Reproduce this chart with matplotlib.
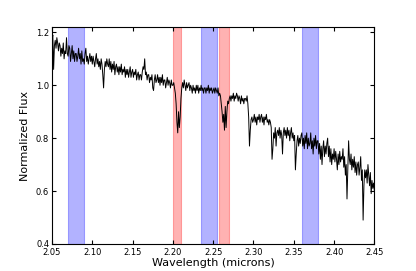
import numpy as np
import matplotlib
matplotlib.use('Agg')
import matplotlib.pyplot as plt

# normalized flux, sampled every 0.001 micron from 2.05 to 2.45
flux = [
    1.17, 1.19, 1.06, 1.15, 1.17, 1.14, 1.18, 1.16, 1.13, 1.16,   # 2.05
    1.15, 1.11, 1.14, 1.12, 1.16, 1.10, 1.13, 1.12, 1.18, 1.12,   # 2.06
    1.11, 1.15, 1.14, 1.09, 1.12, 1.15, 1.10, 1.13, 1.09, 1.12,   # 2.07
    1.12, 1.09, 1.11, 1.14, 1.10, 1.12, 1.08, 1.13, 1.09, 1.10,   # 2.08
    1.08, 1.12, 1.14, 1.09, 1.11, 1.08, 1.10, 1.12, 1.09, 1.11,   # 2.09
    1.08, 1.11, 1.09, 1.07, 1.10, 1.12, 1.08, 1.10, 1.07, 1.09,   # 2.10
    1.06, 1.10, 1.08, 1.04, 0.99, 1.06, 1.09, 1.07, 1.10, 1.08,   # 2.11
    1.07, 1.10, 1.06, 1.09, 1.05, 1.08, 1.06, 1.09, 1.04, 1.07,   # 2.12
    1.08, 1.05, 1.07, 1.04, 1.07, 1.05, 1.08, 1.04, 1.06, 1.05,   # 2.13
    1.07, 1.03, 1.06, 1.04, 1.06, 1.03, 1.05, 1.07, 1.03, 1.05,   # 2.14
    1.06, 1.03, 1.05, 1.04, 1.06, 1.02, 1.04, 1.05, 1.02, 1.04,   # 2.15
    1.04, 1.02, 1.05, 1.07, 1.06, 1.10, 1.04, 1.05, 1.02, 1.04,   # 2.16
    1.04, 1.01, 1.03, 1.02, 1.04, 0.99, 0.98, 1.02, 1.04, 1.01,   # 2.17
    1.02, 1.04, 1.01, 1.03, 1.00, 1.03, 1.01, 1.04, 1.00, 1.02,   # 2.18
    1.02, 0.99, 1.01, 1.03, 1.00, 1.02, 1.01, 0.99, 1.02, 1.00,   # 2.19
    1.00, 1.01, 0.99, 0.97, 0.93, 0.86, 0.82, 0.90, 0.84, 0.88,   # 2.20
    0.95, 0.99, 1.01, 0.99, 1.02, 1.00, 0.98, 1.01, 0.99, 1.00,   # 2.21
    1.01, 0.98, 1.00, 0.99, 0.97, 1.00, 0.98, 0.99, 0.97, 1.00,   # 2.22
    0.98, 1.00, 0.97, 0.99, 0.98, 1.00, 0.98, 0.99, 0.97, 0.99,   # 2.23
    0.99, 0.97, 0.99, 0.98, 1.00, 0.97, 0.99, 0.98, 0.99, 0.97,   # 2.24
    0.98, 0.99, 0.97, 0.99, 0.98, 0.97, 0.99, 0.96, 0.97, 0.96,   # 2.25
    0.93, 0.90, 0.86, 0.89, 0.83, 0.92, 0.84, 0.90, 0.94, 0.93,   # 2.26
    0.95, 0.96, 0.94, 0.96, 0.95, 0.97, 0.94, 0.96, 0.95, 0.97,   # 2.27
    0.96, 0.94, 0.96, 0.95, 0.93, 0.96, 0.94, 0.95, 0.93, 0.95,   # 2.28
    0.95, 0.94, 0.96, 0.93, 0.88, 0.77, 0.83, 0.87, 0.88, 0.86,   # 2.29
    0.87, 0.89, 0.86, 0.88, 0.85, 0.88, 0.87, 0.89, 0.86, 0.88,   # 2.30
    0.89, 0.86, 0.88, 0.85, 0.88, 0.87, 0.89, 0.86, 0.87, 0.85,   # 2.31
    0.87, 0.86, 0.84, 0.72, 0.76, 0.82, 0.80, 0.84, 0.77, 0.82,   # 2.32
    0.83, 0.81, 0.84, 0.80, 0.83, 0.81, 0.74, 0.82, 0.84, 0.81,   # 2.33
    0.83, 0.80, 0.84, 0.81, 0.83, 0.79, 0.82, 0.84, 0.80, 0.82,   # 2.34
    0.79, 0.81, 0.68, 0.74, 0.79, 0.81, 0.77, 0.80, 0.78, 0.81,   # 2.35
    0.82, 0.77, 0.80, 0.76, 0.81, 0.78, 0.82, 0.76, 0.80, 0.77,   # 2.36
    0.78, 0.82, 0.76, 0.79, 0.74, 0.80, 0.77, 0.81, 0.76, 0.79,   # 2.37
    0.79, 0.74, 0.78, 0.72, 0.77, 0.70, 0.76, 0.79, 0.73, 0.77,   # 2.38
    0.74, 0.78, 0.80, 0.73, 0.77, 0.71, 0.76, 0.70, 0.74, 0.72,   # 2.39
    0.76, 0.71, 0.75, 0.72, 0.68, 0.74, 0.70, 0.75, 0.71, 0.73,   # 2.40
    0.72, 0.76, 0.69, 0.73, 0.66, 0.70, 0.57, 0.68, 0.79, 0.72,   # 2.41
    0.70, 0.74, 0.68, 0.72, 0.69, 0.73, 0.67, 0.71, 0.66, 0.70,   # 2.42
    0.71, 0.66, 0.69, 0.73, 0.64, 0.68, 0.49, 0.62, 0.68, 0.65,   # 2.43
    0.68, 0.63, 0.70, 0.66, 0.62, 0.67, 0.59, 0.64, 0.61, 0.63,   # 2.44
    0.60,                                                         # 2.45
]
wave = np.linspace(2.05, 2.45, len(flux))

# shaded windows (microns)
blue_bands = [(2.07, 2.09), (2.235, 2.255), (2.36, 2.38)]
red_bands = [(2.20, 2.21), (2.257, 2.27)]

fig = plt.figure(figsize=(4.16, 2.71), dpi=100)
ax = fig.add_axes([0.125, 0.1, 0.775, 0.8])

for lo, hi in blue_bands:
    ax.axvspan(lo, hi, color='b', alpha=0.3, lw=0.8)
for lo, hi in red_bands:
    ax.axvspan(lo, hi, color='r', alpha=0.3, lw=0.8)

ax.plot(wave, flux, color='black', lw=0.7)

ax.set_xlim(2.05, 2.45)
ax.set_ylim(0.4, 1.22)
ax.set_xticks(np.arange(2.05, 2.451, 0.05))
ax.set_yticks([0.4, 0.6, 0.8, 1.0, 1.2])
ax.tick_params(direction='in', top=True, right=True, labelsize=6, length=3)
ax.tick_params(axis='x', pad=3)
ax.tick_params(axis='y', pad=2)
ax.set_xlabel('Wavelength (microns)', fontsize=8, labelpad=1)
ax.set_ylabel('Normalized Flux', fontsize=8, labelpad=4)

fig.savefig('out.png', dpi=100)
